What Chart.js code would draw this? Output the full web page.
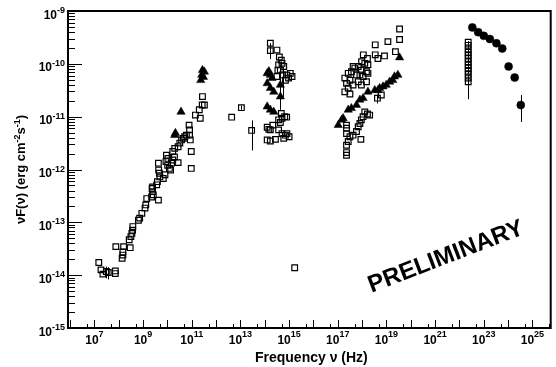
<!DOCTYPE html>
<html><head><meta charset="utf-8">
<script src="https://cdn.jsdelivr.net/npm/chart.js@4"></script>
<style>html,body{margin:0;padding:0;background:#fff}canvas{display:block}</style>
</head><body>
<canvas id="c" width="556" height="367"></canvas>
<script>
// Values, stored as log10 of the quantity (log axes).
// Open squares
const sqLogNu = [7.18,7.27,7.35,7.49,7.57,7.86,7.86,7.88,8.20,8.47,8.17,8.17,8.14,8.43,8.50,8.54,8.58,8.57,8.81,8.86,8.95,9.08,9.11,9.15,9.35,9.42,9.39,9.37,9.39,9.63,9.56,9.59,9.69,9.67,9.64,9.63,9.83,9.90,9.96,10.02,9.94,10.01,10.08,10.13,10.17,10.22,10.29,10.22,10.30,10.44,10.44,10.51,10.58,10.65,10.71,10.78,10.89,10.91,10.91,10.94,10.98,10.98,11.15,11.31,11.35,11.43,11.52,11.44,
  12.64,13.04,13.46,15.23,
  14.23,14.23,14.50,14.60,14.68,14.71,14.57,14.54,14.50,14.78,14.91,15.05,15.12,14.98,14.85,14.64,14.73,
  14.68,14.71,14.82,14.57,14.64,14.90,14.10,14.17,14.23,14.33,14.57,14.71,14.85,15.00,14.78,14.91,14.10,14.23,14.44,
  19.54,19.54,19.06,18.54,18.54,18.65,18.92,19.37,18.22,
  17.98,18.11,18.24,17.84,17.70,17.97,18.18,17.56,17.43,17.77,18.04,18.24,17.29,17.50,17.84,18.18,17.36,17.63,17.97,17.43,17.29,17.50,17.91,17.63,18.05,
  18.63,18.79,
  18.11,18.22,18.31,18.04,17.97,17.91,17.84,17.77,17.63,17.50,17.36,17.36,17.36,17.95,17.43,17.36,17.36,17.36,
  22.36,22.36,22.36,22.36,22.36,22.36,22.36,22.36,22.36,22.36,22.36,22.36,22.36];
const sqLogF = [-13.76,-13.90,-13.98,-13.93,-13.95,-13.92,-13.97,-13.46,-13.46,-13.48,-13.56,-13.62,-13.68,-13.33,-13.27,-13.21,-13.08,-13.15,-12.96,-12.92,-12.83,-12.73,-12.67,-12.55,-12.52,-12.48,-12.42,-12.36,-12.33,-12.58,-12.29,-12.23,-12.14,-12.07,-12.01,-11.88,-12.17,-12.10,-11.73,-11.79,-11.85,-11.92,-11.98,-12.01,-11.88,-11.82,-11.76,-11.66,-11.60,-11.87,-11.57,-11.50,-11.44,-11.41,-11.38,-11.35,-11.16,-11.25,-11.35,-11.44,-11.66,-11.98,-10.97,-10.87,-11.03,-10.78,-10.78,-10.62,
  -11.01,-10.83,-11.26,-13.86,
  -9.61,-9.75,-9.74,-9.87,-9.93,-9.99,-10.02,-10.12,-10.24,-10.05,-10.21,-10.18,-10.24,-10.27,-10.31,-10.12,-10.21,
  -10.94,-11.03,-11.00,-11.06,-11.11,-11.01,-11.20,-11.24,-11.25,-11.16,-11.25,-11.32,-11.35,-11.38,-11.41,-11.32,-11.44,-11.46,-11.43,
  -9.34,-9.54,-9.58,-9.64,-9.83,-9.90,-9.85,-9.77,-9.90,
  -9.96,-9.99,-10.02,-10.05,-10.08,-10.12,-10.15,-10.15,-10.18,-10.21,-10.24,-10.18,-10.27,-10.31,-10.34,-10.34,-10.37,-10.40,-10.40,-10.46,-10.53,-10.57,-10.21,-10.05,-9.83,
  -10.65,-10.59,
  -10.91,-10.95,-10.97,-11.00,-11.06,-11.13,-11.19,-11.28,-11.35,-11.38,-11.32,-11.16,-11.22,-11.43,-11.47,-11.54,-11.68,-11.73,
  -9.59,-9.65,-9.72,-9.78,-9.84,-9.90,-9.96,-10.02,-10.08,-10.14,-10.20,-10.27,-10.34];

// Filled triangles
const triLogNu = [10.30,10.33,10.56,11.37,11.41,11.44,11.52,11.48,
  14.10,14.23,14.30,14.17,14.10,14.23,14.37,14.64,14.64,14.10,14.23,14.37,
  19.54,17.02,17.16,17.22,17.43,17.56,17.77,17.91,18.04,18.24,18.52,18.65,18.86,18.99,19.13,19.26,19.33,19.47,18.72];
const triLogF = [-11.35,-11.31,-10.91,-10.31,-10.21,-10.12,-10.15,-10.25,
  -10.18,-10.21,-10.27,-10.14,-10.37,-10.46,-10.53,-10.40,-10.62,-10.81,-10.87,-10.91,
  -9.88,-11.16,-11.06,-11.03,-10.87,-10.84,-10.78,-10.68,-10.65,-10.53,-10.50,-10.50,-10.43,-10.40,-10.34,-10.31,-10.24,-10.21,-10.46];

// Filled circles
const circLogNu = [22.53,22.77,23.00,23.25,23.52,23.76,24.02,24.27,24.52];
const circLogF = [-9.31,-9.40,-9.47,-9.53,-9.61,-9.71,-10.05,-10.26,-10.78];

// Vertical error bars (log10 nu, log10 low, log10 high)
const errLogNu = [7.49,7.57,13.04,13.46,14.23,14.64,14.73,18.63,22.36,24.27,24.52];
const errLogLo = [-14.06,-14.08,-10.87,-11.64,-9.91,-10.87,-10.63,-10.75,-10.67,-10.33,-11.10];
const errLogHi = [-13.84,-13.85,-10.79,-11.07,-9.61,-10.02,-10.06,-10.58,-9.57,-10.20,-10.59];

// Axis ranges and labelled exponents
const xLogRange = [5.915, 25.75];
const yLogRange = [-15, -9];
const xLabelExps = [7,9,11,13,15,17,19,21,23,25];
const yLabelExps = [-15,-14,-13,-12,-11,-10,-9];

const xTitle = 'Frequency \u03BD (Hz)';
const watermark = 'PRELIMINARY';

const toPts = (lx, ly) => lx.map((v, i) => ({x: Math.pow(10, v), y: Math.pow(10, ly[i])}));
const FONT = '"Liberation Sans", Arial, Helvetica, sans-serif';

const rootPlugin = {
  id: 'rootAxes',
  beforeDatasetsDraw(chart) {
    const {ctx, scales: {x, y}} = chart;
    ctx.save();
    ctx.strokeStyle = '#000';
    ctx.lineWidth = 1;
    ctx.beginPath();
    errLogNu.forEach((n, i) => {
      const px = Math.round(x.getPixelForValue(Math.pow(10, n))) + 0.5;
      ctx.moveTo(px, y.getPixelForValue(Math.pow(10, errLogLo[i])));
      ctx.lineTo(px, y.getPixelForValue(Math.pow(10, errLogHi[i])));
    });
    ctx.stroke();
    ctx.restore();
  },
  afterDraw(chart) {
    const {ctx, chartArea: a, scales: {x, y}} = chart;
    ctx.save();
    ctx.strokeStyle = '#000';
    ctx.fillStyle = '#000';
    // frame
    ctx.lineWidth = 2;
    ctx.strokeRect(a.left, a.top, a.right - a.left, a.bottom - a.top);
    // y ticks
    ctx.lineWidth = 1;
    ctx.beginPath();
    for (let e = yLogRange[0]; e <= yLogRange[1]; e++) {
      for (let m = 1; m <= 9; m++) {
        const v = m * Math.pow(10, e);
        if (Math.log10(v) > yLogRange[1] + 1e-9) break;
        const py = Math.round(y.getPixelForValue(v)) + 0.5;
        const len = m === 1 ? 14 : 7;
        ctx.moveTo(a.left, py); ctx.lineTo(a.left + len, py);
      }
    }
    // x ticks
    for (let e = Math.floor(xLogRange[0]); e <= Math.ceil(xLogRange[1]); e++) {
      [1, 5].forEach(m => {
        const lv = e + Math.log10(m);
        if (lv < xLogRange[0] || lv > xLogRange[1]) return;
        const px = Math.round(x.getPixelForValue(Math.pow(10, lv))) + 0.5;
        const len = m === 1 ? 8 : 4;
        ctx.moveTo(px, a.bottom); ctx.lineTo(px, a.bottom - len);
      });
    }
    ctx.stroke();

    // tick labels
    const baseFont = 'bold 12px ' + FONT, expFont = 'bold 9px ' + FONT;
    ctx.textBaseline = 'alphabetic';
    ctx.textAlign = 'left';
    yLabelExps.forEach(e => {
      const py = y.getPixelForValue(Math.pow(10, e));
      const es = String(e);
      ctx.font = baseFont; const bw = ctx.measureText('10').width;
      ctx.font = expFont; const ew = ctx.measureText(es).width;
      const sx = a.left - 3 - bw - ew;
      ctx.font = baseFont; ctx.fillText('10', sx, py + 7.5);
      ctx.font = expFont; ctx.fillText(es, sx + bw, py + 2);
    });
    xLabelExps.forEach(e => {
      const px = x.getPixelForValue(Math.pow(10, e));
      const es = String(e);
      ctx.font = baseFont; const bw = ctx.measureText('10').width;
      ctx.font = expFont; const ew = ctx.measureText(es).width;
      const sx = px - (bw + ew) / 2;
      ctx.font = baseFont; ctx.fillText('10', sx, a.bottom + 15.5);
      ctx.font = expFont; ctx.fillText(es, sx + bw, a.bottom + 9);
    });

    // x title
    ctx.font = 'bold 14px ' + FONT;
    ctx.textAlign = 'center';
    ctx.fillText(xTitle, (a.left + a.right) / 2 + 2, 362);

    // y title (rotated, with superscripts)
    const segs = [['\u03BDF(\u03BD) (erg cm', 0], ['-2', 1], ['s', 0], ['-1', 1], [')', 0]];
    const fN = 'bold 13px ' + FONT, fS = 'bold 9px ' + FONT;
    let tw = 0;
    segs.forEach(s => { ctx.font = s[1] ? fS : fN; tw += ctx.measureText(s[0]).width; });
    ctx.save();
    ctx.translate(25, (a.top + a.bottom) / 2);
    ctx.rotate(-Math.PI / 2);
    ctx.textAlign = 'left';
    let cx = -tw / 2;
    segs.forEach(s => {
      ctx.font = s[1] ? fS : fN;
      ctx.fillText(s[0], cx, s[1] ? -5 : 0);
      cx += ctx.measureText(s[0]).width;
    });
    ctx.restore();

    // watermark
    ctx.save();
    ctx.translate(446, 257);
    ctx.rotate(-21 * Math.PI / 180);
    ctx.font = 'bold 24px ' + FONT;
    ctx.textAlign = 'center';
    ctx.textBaseline = 'middle';
    ctx.fillText(watermark, 0, 0);
    ctx.restore();

    ctx.restore();
  }
};

new Chart(document.getElementById('c'), {
  type: 'scatter',
  data: {
    datasets: [
      {label: 'squares', data: toPts(sqLogNu, sqLogF), pointStyle: 'rect', pointRadius: 4,
       borderColor: '#000', borderWidth: 1.2, backgroundColor: 'rgba(0,0,0,0)'},
      {label: 'triangles', data: toPts(triLogNu, triLogF), pointStyle: 'triangle', pointRadius: 4.8,
       borderColor: '#000', borderWidth: 0.5, backgroundColor: '#000'},
      {label: 'circles', data: toPts(circLogNu, circLogF), pointStyle: 'circle', pointRadius: 4,
       borderColor: '#000', borderWidth: 0.5, backgroundColor: '#000'}
    ]
  },
  options: {
    responsive: false,
    animation: false,
    events: [],
    layout: {padding: {left: 68, right: 2, top: 11, bottom: 39}},
    plugins: {legend: {display: false}, tooltip: {enabled: false}},
    scales: {
      x: {type: 'logarithmic', display: false, bounds: 'data',
          min: Math.pow(10, xLogRange[0]), max: Math.pow(10, xLogRange[1])},
      y: {type: 'logarithmic', display: false, bounds: 'data',
          min: Math.pow(10, yLogRange[0]), max: Math.pow(10, yLogRange[1])}
    }
  },
  plugins: [rootPlugin]
});
</script>
</body></html>
